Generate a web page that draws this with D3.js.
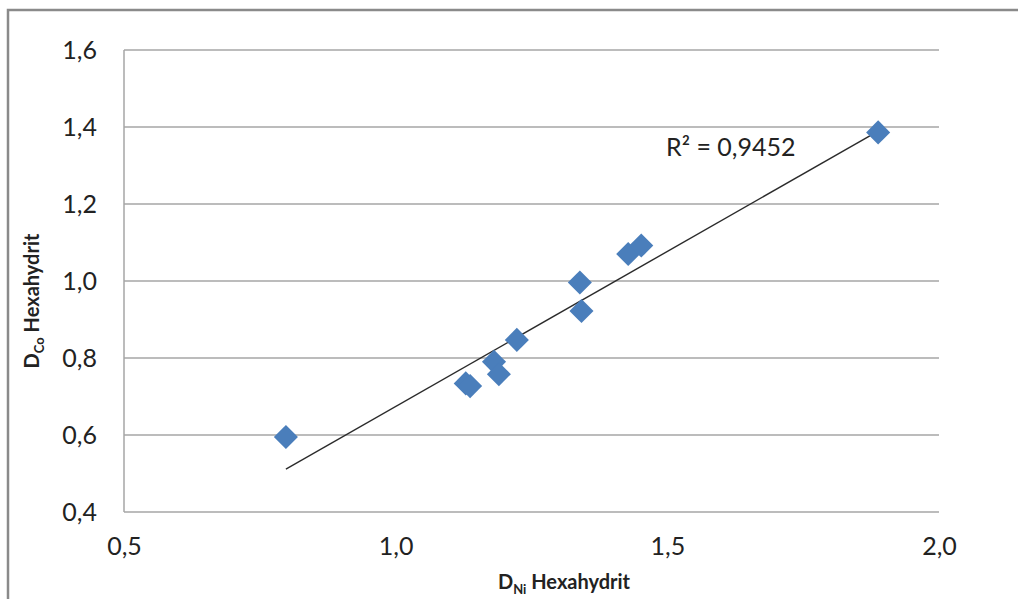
<!DOCTYPE html>
<html><head><meta charset="utf-8">
<script src="https://cdn.jsdelivr.net/npm/d3@7/dist/d3.min.js"></script>
<style>
html,body{margin:0;padding:0;background:#fff;}
svg{display:block;}
text{font-family:Lato,"Open Sans",sans-serif;fill:#222;}
</style></head>
<body>
<svg id="c" width="1018" height="599"></svg>
<script>
const xValues = [0.798, 1.129, 1.137, 1.181, 1.190, 1.223, 1.339, 1.342, 1.428, 1.452, 1.888];
const yValues = [0.595, 0.734, 0.727, 0.790, 0.758, 0.847, 0.996, 0.922, 1.070, 1.092, 1.386];
const xTicks = [0.5, 1.0, 1.5, 2.0];
const yTicks = [0.4, 0.6, 0.8, 1.0, 1.2, 1.4, 1.6];
const r2Label = "R² = 0,9452";
const xTitleMain = "D", xTitleSub = "Ni", xTitleRest = " Hexahydrit";
const yTitleMain = "D", yTitleSub = "Co", yTitleRest = " Hexahydrit";

const svg = d3.select("#c");
const fmt = v => d3.format(".1f")(v).replace(".", ",");

// outer frame
svg.append("rect").attr("x", 8).attr("y", 10).attr("width", 1030).attr("height", 620)
  .attr("fill", "none").attr("stroke", "#8a8a8a").attr("stroke-width", 2.5);

const x = d3.scaleLinear().domain([0.5, 2.0]).range([124, 939]);
const y = d3.scaleLinear().domain([0.4, 1.6]).range([512, 50]);

// gridlines
svg.append("g").selectAll("line").data(yTicks).join("line")
  .attr("x1", x(0.5)).attr("x2", x(2.0))
  .attr("y1", d => y(d)).attr("y2", d => y(d))
  .attr("stroke", "#a6a6a6").attr("stroke-width", 1.5);

// left axis line
svg.append("line").attr("x1", x(0.5)).attr("x2", x(0.5)).attr("y1", y(1.6)).attr("y2", y(0.4))
  .attr("stroke", "#a6a6a6").attr("stroke-width", 1.5);

// axes (labels only)
const yAxis = d3.axisLeft(y).tickValues(yTicks).tickFormat(fmt).tickSize(0).tickPadding(0);
const gy = svg.append("g").attr("transform", `translate(97,0)`).call(yAxis);
gy.select(".domain").remove();
gy.selectAll("text").style("font-size", "25px").style("font-family", "Lato").attr("fill", "#222");

const xAxis = d3.axisBottom(x).tickValues(xTicks).tickFormat(fmt).tickSize(0).tickPadding(0);
const gx = svg.append("g").attr("transform", `translate(0,537)`).call(xAxis);
gx.select(".domain").remove();
gx.selectAll("text").style("font-size", "25px").style("font-family", "Lato").attr("fill", "#222");

// trendline (least squares)
const n = xValues.length;
const mx = d3.mean(xValues), my = d3.mean(yValues);
let sxy = 0, sxx = 0;
for (let i = 0; i < n; i++) { sxy += (xValues[i]-mx)*(yValues[i]-my); sxx += (xValues[i]-mx)**2; }
const slope = sxy / sxx, icpt = my - slope * mx;
const x0 = d3.min(xValues), x1 = d3.max(xValues);
svg.append("line")
  .attr("x1", x(x0)).attr("y1", y(icpt + slope*x0))
  .attr("x2", x(x1)).attr("y2", y(icpt + slope*x1))
  .attr("stroke", "#2b2b2b").attr("stroke-width", 1.4);

// markers
const pts = xValues.map((v, i) => ({x: v, y: yValues[i]}));
const sym = d3.symbol().type(d3.symbolSquare).size(290);
svg.append("g").selectAll("path").data(pts).join("path")
  .attr("d", sym)
  .attr("transform", d => `translate(${x(d.x)},${y(d.y)}) rotate(45)`)
  .attr("fill", "#4a7ebb");

// R² label
svg.append("text").attr("x", 666).attr("y", 156).style("font-size", "25px").text(r2Label);

// x title
const xt = svg.append("text").attr("x", 564).attr("y", 589).attr("text-anchor", "middle")
  .style("font-size", "20px").style("font-weight", "bold").attr("fill", "#111");
xt.append("tspan").text(xTitleMain);
xt.append("tspan").attr("dy", 5).style("font-size", "13px").text(xTitleSub);
xt.append("tspan").attr("dy", -5).text(xTitleRest);

// y title
const yt = svg.append("text").attr("transform", "translate(39,301) rotate(-90)").attr("text-anchor", "middle")
  .style("font-size", "20px").style("font-weight", "bold").attr("fill", "#111");
yt.append("tspan").text(yTitleMain);
yt.append("tspan").attr("dy", 5).style("font-size", "13px").text(yTitleSub);
yt.append("tspan").attr("dy", -5).text(yTitleRest);
</script>
</body></html>
